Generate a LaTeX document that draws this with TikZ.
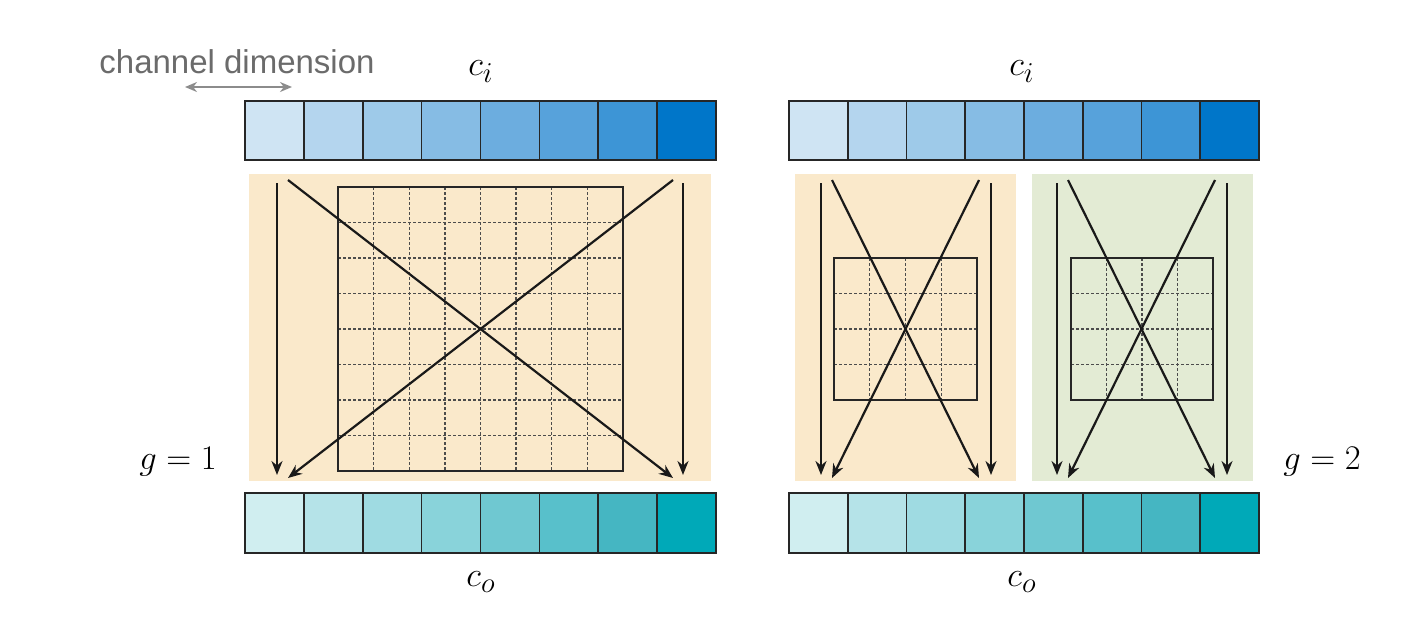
\documentclass[tikz,border=0pt]{standalone}
\usepackage{fontspec}
\newfontfamily\labelfont{Liberation Sans}
\usetikzlibrary{arrows.meta}

\definecolor{inA}{HTML}{CFE4F3}
\definecolor{inB}{HTML}{B4D5EE}
\definecolor{inC}{HTML}{9ECAE9}
\definecolor{inD}{HTML}{86BCE4}
\definecolor{inE}{HTML}{6CADDF}
\definecolor{inF}{HTML}{57A2DB}
\definecolor{inG}{HTML}{3D95D6}
\definecolor{inH}{HTML}{0076C9}
\definecolor{outA}{HTML}{D0EEF0}
\definecolor{outB}{HTML}{B5E3E8}
\definecolor{outC}{HTML}{9FDBE2}
\definecolor{outD}{HTML}{89D3DA}
\definecolor{outE}{HTML}{6FC8D1}
\definecolor{outF}{HTML}{58C0CB}
\definecolor{outG}{HTML}{45B6C2}
\definecolor{outH}{HTML}{00A9B8}
\definecolor{panelorange}{HTML}{FAE9CB}
\definecolor{panelgreen}{HTML}{E3EBD4}

\tikzset{
  cell/.style={draw=black!85,line width=0.8pt},
  kernel/.style={draw=black!85,line width=1.2pt},
  gridline/.style={black!70,line width=0.7pt,dash pattern=on 1.5pt off 1pt},
  flow/.style={black!90,line width=1.1pt,-{Stealth[length=7pt,width=5.5pt]}},
  lbl/.style={font=\fontsize{19}{21}\selectfont}
}

\begin{document}
\begin{tikzpicture}[x=0.5pt,y=-0.5pt]
\useasboundingbox (0,0) rectangle (1418,638);

% input channels
\draw[cell,fill=inA] (245,101) rectangle (303.9,160);
\draw[cell,fill=inB] (303.9,101) rectangle (362.75,160);
\draw[cell,fill=inC] (362.75,101) rectangle (421.6,160);
\draw[cell,fill=inD] (421.6,101) rectangle (480.5,160);
\draw[cell,fill=inE] (480.5,101) rectangle (539.4,160);
\draw[cell,fill=inF] (539.4,101) rectangle (598.25,160);
\draw[cell,fill=inG] (598.25,101) rectangle (657.1,160);
\draw[cell,fill=inH] (657.1,101) rectangle (716,160);

\draw[cell,fill=inA] (789,101) rectangle (847.75,160);
\draw[cell,fill=inB] (847.75,101) rectangle (906.5,160);
\draw[cell,fill=inC] (906.5,101) rectangle (965.25,160);
\draw[cell,fill=inD] (965.25,101) rectangle (1024,160);
\draw[cell,fill=inE] (1024,101) rectangle (1082.75,160);
\draw[cell,fill=inF] (1082.75,101) rectangle (1141.5,160);
\draw[cell,fill=inG] (1141.5,101) rectangle (1200.25,160);
\draw[cell,fill=inH] (1200.25,101) rectangle (1259,160);

% output channels
\draw[cell,fill=outA] (245,493) rectangle (303.9,553);
\draw[cell,fill=outB] (303.9,493) rectangle (362.75,553);
\draw[cell,fill=outC] (362.75,493) rectangle (421.6,553);
\draw[cell,fill=outD] (421.6,493) rectangle (480.5,553);
\draw[cell,fill=outE] (480.5,493) rectangle (539.4,553);
\draw[cell,fill=outF] (539.4,493) rectangle (598.25,553);
\draw[cell,fill=outG] (598.25,493) rectangle (657.1,553);
\draw[cell,fill=outH] (657.1,493) rectangle (716,553);

\draw[cell,fill=outA] (789,493) rectangle (847.75,553);
\draw[cell,fill=outB] (847.75,493) rectangle (906.5,553);
\draw[cell,fill=outC] (906.5,493) rectangle (965.25,553);
\draw[cell,fill=outD] (965.25,493) rectangle (1024,553);
\draw[cell,fill=outE] (1024,493) rectangle (1082.75,553);
\draw[cell,fill=outF] (1082.75,493) rectangle (1141.5,553);
\draw[cell,fill=outG] (1141.5,493) rectangle (1200.25,553);
\draw[cell,fill=outH] (1200.25,493) rectangle (1259,553);

% groups
\fill[panelorange] (249,174) rectangle (711,481);
\fill[panelorange] (795,174) rectangle (1016,481);
\fill[panelgreen] (1032,174) rectangle (1253,481);

% g = 1 weights
\draw[gridline] (373.6,187) -- (373.6,471);
\draw[gridline] (409.25,187) -- (409.25,471);
\draw[gridline] (444.9,187) -- (444.9,471);
\draw[gridline] (480.5,187) -- (480.5,471);
\draw[gridline] (516.1,187) -- (516.1,471);
\draw[gridline] (551.75,187) -- (551.75,471);
\draw[gridline] (587.4,187) -- (587.4,471);
\draw[gridline] (338,222.5) -- (623,222.5);
\draw[gridline] (338,258) -- (623,258);
\draw[gridline] (338,293.5) -- (623,293.5);
\draw[gridline] (338,329) -- (623,329);
\draw[gridline] (338,364.5) -- (623,364.5);
\draw[gridline] (338,400) -- (623,400);
\draw[gridline] (338,435.5) -- (623,435.5);
\draw[kernel] (338,187) rectangle (623,471);

% g = 2 weights
\draw[gridline] (869.75,258) -- (869.75,400);
\draw[gridline] (905.5,258) -- (905.5,400);
\draw[gridline] (941.25,258) -- (941.25,400);
\draw[gridline] (834,293.5) -- (977,293.5);
\draw[gridline] (834,329) -- (977,329);
\draw[gridline] (834,364.5) -- (977,364.5);
\draw[kernel] (834,258) rectangle (977,400);

\draw[gridline] (1106.5,258) -- (1106.5,400);
\draw[gridline] (1142,258) -- (1142,400);
\draw[gridline] (1177.5,258) -- (1177.5,400);
\draw[gridline] (1071,293.5) -- (1213,293.5);
\draw[gridline] (1071,329) -- (1213,329);
\draw[gridline] (1071,364.5) -- (1213,364.5);
\draw[kernel] (1071,258) rectangle (1213,400);

% arrow ends
\coordinate (lsa) at (277,183);   \coordinate (lea) at (277,475);
\coordinate (lsb) at (288,180);   \coordinate (leb) at (673,478);
\coordinate (lsc) at (673,180);   \coordinate (lec) at (288,478);
\coordinate (lsd) at (683,183);   \coordinate (led) at (683,475);

\coordinate (osa) at (821,183);   \coordinate (oea) at (821,475);
\coordinate (osb) at (832,180);   \coordinate (oeb) at (979,478);
\coordinate (osc) at (979,180);   \coordinate (oec) at (832,478);
\coordinate (osd) at (991,183);   \coordinate (oed) at (991,475);

\coordinate (gsa) at (1057,183);  \coordinate (gea) at (1057,475);
\coordinate (gsb) at (1068,180);  \coordinate (geb) at (1215,478);
\coordinate (gsc) at (1215,180);  \coordinate (gec) at (1068,478);
\coordinate (gsd) at (1227,183);  \coordinate (ged) at (1227,475);

\draw[flow] (lsa) -- (lea);
\draw[flow] (lsb) -- (leb);
\draw[flow] (lsc) -- (lec);
\draw[flow] (lsd) -- (led);

\draw[flow] (osa) -- (oea);
\draw[flow] (osb) -- (oeb);
\draw[flow] (osc) -- (oec);
\draw[flow] (osd) -- (oed);

\draw[flow] (gsa) -- (gea);
\draw[flow] (gsb) -- (geb);
\draw[flow] (gsc) -- (gec);
\draw[flow] (gsd) -- (ged);

% labels
\node[lbl] (cil) at (481,72) {$c_i$};
\node[lbl] (cir) at (1022,72) {$c_i$};
\node[lbl] (col) at (481,582) {$c_o$};
\node[lbl] (cor) at (1022,582) {$c_o$};
\node[lbl] (gone) at (178,462) {$g = 1$};
\node[lbl] (gtwo) at (1322,462) {$g = 2$};

\node[font=\labelfont\fontsize{16.5}{18}\selectfont,text=black!58] (chdim) at (237,62) {channel dimension};
\coordinate (dimL) at (185,87);
\coordinate (dimR) at (292,87);
\draw[black!45,line width=1.1pt,{Stealth[length=6pt,width=5pt]}-{Stealth[length=6pt,width=5pt]}] (dimL) -- (dimR);
\end{tikzpicture}
\end{document}
